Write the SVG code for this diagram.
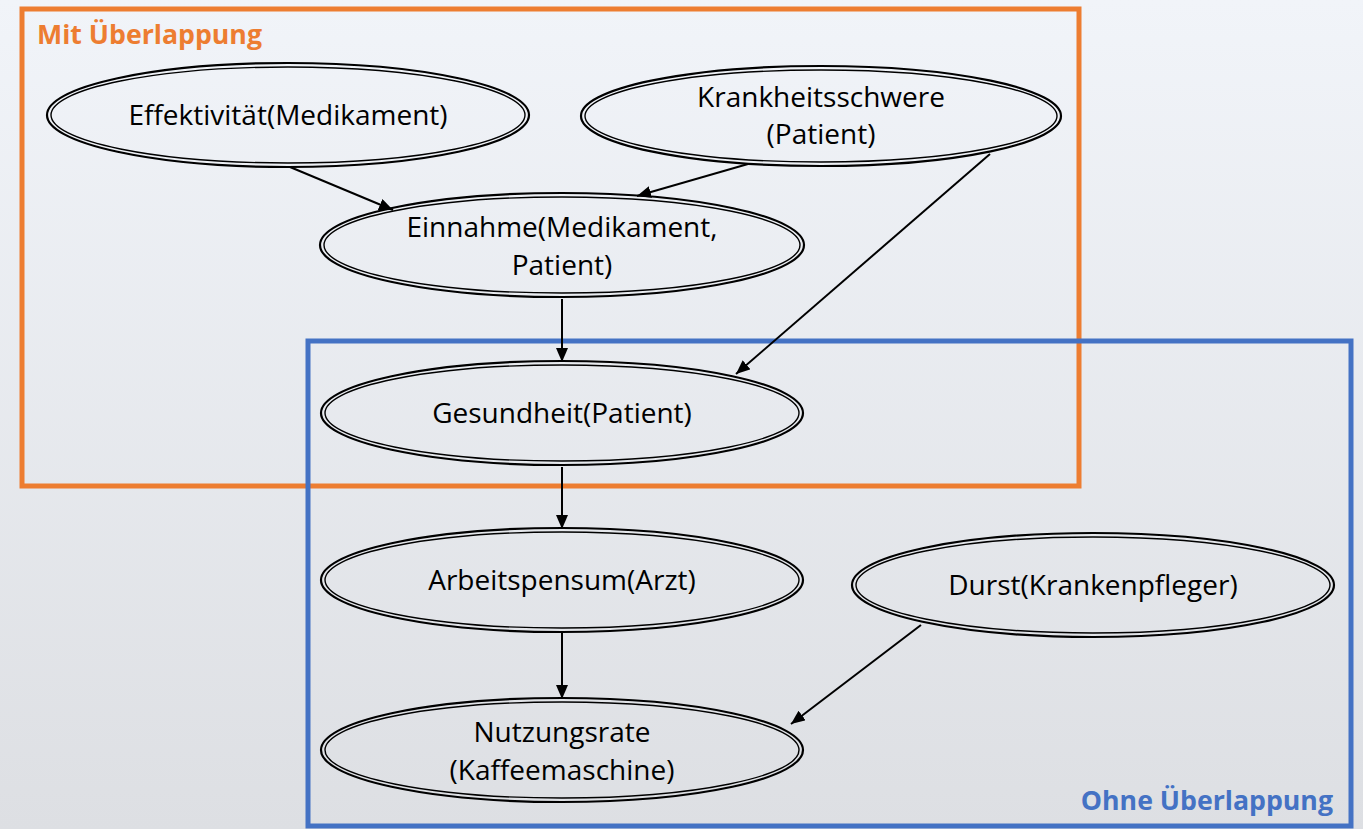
<svg xmlns="http://www.w3.org/2000/svg" width="1363" height="829" viewBox="0 0 1363 829">
<defs>
<linearGradient id="bg" x1="0" y1="0" x2="0" y2="1">
<stop offset="0" stop-color="#f1f4f9"/>
<stop offset="1" stop-color="#dddfe3"/>
</linearGradient>
<marker id="ah" markerWidth="14" markerHeight="12" refX="14" refY="6" orient="auto" markerUnits="userSpaceOnUse">
<path d="M0,0 L14,6 L0,12 Z" fill="#000"/>
</marker>
<style>
.o{fill:none;stroke:#000;stroke-width:2.2}
.i{fill:none;stroke:#000;stroke-width:1.4}
.t{font-family:"Open Sans","Liberation Sans",sans-serif;font-size:28px;fill:#000;text-anchor:middle}
.c{stroke:#000;stroke-width:2;fill:none;marker-end:url(#ah)}
.h{font-family:"Open Sans","Liberation Sans",sans-serif;font-size:26.7px;font-weight:bold}
</style>
</defs>
<rect x="0" y="0" width="1363" height="829" fill="url(#bg)"/>
<g id="group-mit">
<rect x="22" y="9" width="1057" height="477" fill="none" stroke="#ED7D31" stroke-width="5"/>
<text class="h" x="37" y="44" fill="#ED7D31">Mit Überlappung</text>
</g>
<g id="group-ohne">
<rect x="308" y="341" width="1043" height="485" fill="none" stroke="#4472C4" stroke-width="5"/>
<text class="h" x="1333" y="810" fill="#4472C4" text-anchor="end">Ohne Überlappung</text>
</g>
<g id="connectors">
<line class="c" x1="290" y1="167" x2="393" y2="210"/>
<line class="c" x1="748" y1="164" x2="637" y2="196"/>
<line class="c" x1="990" y1="154" x2="736" y2="374"/>
<line class="c" x1="562" y1="299" x2="562" y2="362"/>
<line class="c" x1="562" y1="467" x2="562" y2="529"/>
<line class="c" x1="562" y1="633" x2="562" y2="699"/>
<line class="c" x1="921" y1="625" x2="791" y2="724"/>
</g>
<g id="n-effektivitaet">
<ellipse class="o" cx="288" cy="115" rx="241" ry="52"/>
<ellipse class="i" cx="288" cy="115" rx="237" ry="48"/>
<text class="t" x="288" y="125">Effektivität(Medikament)</text>
</g>
<g id="n-krankheitsschwere">
<ellipse class="o" cx="821" cy="116" rx="240" ry="50"/>
<ellipse class="i" cx="821" cy="116" rx="236" ry="46"/>
<text class="t" x="821" y="107">Krankheitsschwere</text>
<text class="t" x="821" y="144">(Patient)</text>
</g>
<g id="n-einnahme">
<ellipse class="o" cx="562" cy="245" rx="242" ry="52"/>
<ellipse class="i" cx="562" cy="245" rx="238" ry="48"/>
<text class="t" x="562" y="237">Einnahme(Medikament,</text>
<text class="t" x="562" y="275">Patient)</text>
</g>
<g id="n-gesundheit">
<ellipse class="o" cx="562" cy="413" rx="241" ry="52"/>
<ellipse class="i" cx="562" cy="413" rx="237" ry="48"/>
<text class="t" x="562" y="423">Gesundheit(Patient)</text>
</g>
<g id="n-arbeitspensum">
<ellipse class="o" cx="562" cy="580" rx="241" ry="52"/>
<ellipse class="i" cx="562" cy="580" rx="237" ry="48"/>
<text class="t" x="562" y="590">Arbeitspensum(Arzt)</text>
</g>
<g id="n-durst">
<ellipse class="o" cx="1093" cy="585" rx="241" ry="52"/>
<ellipse class="i" cx="1093" cy="585" rx="237" ry="48"/>
<text class="t" x="1093" y="595">Durst(Krankenpfleger)</text>
</g>
<g id="n-nutzungsrate">
<ellipse class="o" cx="562" cy="750" rx="241" ry="52"/>
<ellipse class="i" cx="562" cy="750" rx="237" ry="48"/>
<text class="t" x="562" y="742">Nutzungsrate</text>
<text class="t" x="562" y="780">(Kaffeemaschine)</text>
</g>
</svg>
